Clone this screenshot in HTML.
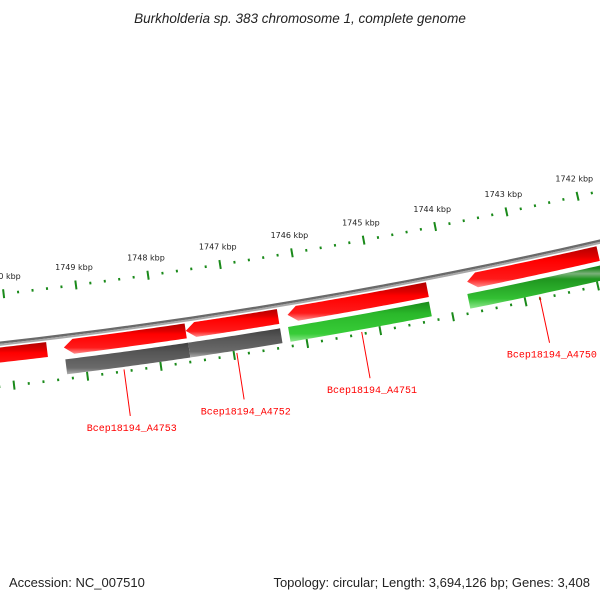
<!DOCTYPE html>
<html><head><meta charset="utf-8">
<style>
html,body{margin:0;padding:0;background:#fff;}
svg{display:block;}
</style></head>
<body>
<svg id="chart" width="600" height="600" viewBox="0 0 600 600" xmlns="http://www.w3.org/2000/svg">
<defs>
<linearGradient id="gRed" x1="0" y1="0" x2="0" y2="1">
<stop offset="0" stop-color="#b00000"/><stop offset="0.25" stop-color="#e00000"/><stop offset="0.35" stop-color="#ff0000"/><stop offset="0.8" stop-color="#ff1a1a"/><stop offset="1" stop-color="#ff9090"/></linearGradient>
<linearGradient id="gGray" x1="0" y1="0" x2="0" y2="1">
<stop offset="0" stop-color="#404040"/><stop offset="0.3" stop-color="#555"/><stop offset="0.8" stop-color="#6a6a6a"/><stop offset="1" stop-color="#b0b0b0"/></linearGradient>
<linearGradient id="gGreen" x1="0" y1="0" x2="0" y2="1">
<stop offset="0" stop-color="#1a8a1a"/><stop offset="0.3" stop-color="#2ab82a"/><stop offset="0.8" stop-color="#38cc38"/><stop offset="1" stop-color="#90e890"/></linearGradient>
<linearGradient id="gDark" x1="0" y1="0" x2="0" y2="1">
<stop offset="0" stop-color="#0b5f0b"/><stop offset="0.4" stop-color="#1f861f"/><stop offset="0.48" stop-color="#7ab07a"/><stop offset="0.56" stop-color="#1f961f"/><stop offset="0.85" stop-color="#33c033"/><stop offset="1" stop-color="#90e890"/></linearGradient>
</defs>
<text x="300" y="23" text-anchor="middle" font-family="Liberation Sans, sans-serif" font-style="italic" font-size="13.5" fill="#222">Burkholderia sp. 383 chromosome 1, complete genome</text>
<g id="ticks-inner"></g>
<g id="ticks-outer"></g>
<g id="backbone"></g>
<g id="features"></g>
<g id="labels"></g>
<text x="9" y="587" font-family="Liberation Sans, sans-serif" font-size="13" fill="#222">Accession: NC_007510</text>
<text x="590" y="587" text-anchor="end" font-family="Liberation Sans, sans-serif" font-size="13" fill="#222">Topology: circular; Length: 3,694,126 bp; Genes: 3,408</text>
</svg>
<script>
// data
var majorTicks = [1741,1742,1743,1744,1745,1746,1747,1748,1749,1750,1751];
var tickLabels = ["1741 kbp","1742 kbp","1743 kbp","1744 kbp","1745 kbp","1746 kbp","1747 kbp","1748 kbp","1749 kbp","1750 kbp","1751 kbp"];
var minorStep = 0.2;
var redStarts = [1749.50, 1749.27, 1747.60, 1746.20, 1743.72];
var redEnds   = [1751.50, 1747.60, 1746.33, 1744.27, 1741.90];
var redArrow  = [false, true, true, true, true];
var lowStarts = [1749.27, 1747.59, 1746.22, 1743.75];
var lowEnds   = [1747.59, 1746.33, 1744.28, 1740.50];
var lowColors = ["gray","gray","green","dark"];
var geneNames = ["Bcep18194_A4753","Bcep18194_A4752","Bcep18194_A4751","Bcep18194_A4750"];
var genePos   = [1748.50, 1746.96, 1745.25, 1742.80];

var NS="http://www.w3.org/2000/svg";
var CX=-600, CY=-5000;
function ang(k){return (79.58+(k-1745)*0.783)*Math.PI/180;}
function pt(k,r){var a=ang(k);return [CX+r*Math.cos(a), CY+r*Math.sin(a)];}
function mk(tag,attrs,parent){var e=document.createElementNS(NS,tag);for(var a in attrs)e.setAttribute(a,attrs[a]);parent.appendChild(e);return e;}
function arcPts(k1,k2,r){var p=[],n=40;for(var i=0;i<=n;i++){p.push(pt(k1+(k2-k1)*i/n,r));}return p;}
function fmt(p){return p.map(function(q){return q[0].toFixed(2)+","+q[1].toFixed(2);}).join(" ");}

// ticks
var gi=document.getElementById('ticks-inner'), go=document.getElementById('ticks-outer');
function drawRing(g,rc,withLabels){
  for(var k=majorTicks[0];k<=majorTicks[majorTicks.length-1]+1e-6;k+=minorStep){
    var isMaj=Math.abs(k-Math.round(k))<1e-6;
    var h=isMaj?4.5:1.3;
    var a=pt(k,rc-h), b=pt(k,rc+h);
    var l=mk('line',{x1:a[0],y1:a[1],x2:b[0],y2:b[1],stroke:'#1a8a1a','stroke-width':2},g);
    
    
  }
  if(withLabels){
    majorTicks.forEach(function(k,i){
      var p=pt(k,rc-15);
      var t=mk('text',{x:p[0],y:p[1],'text-anchor':'middle','font-family':'DejaVu Sans, sans-serif','font-size':'8',fill:'#222'},g);
      t.textContent=tickLabels[i];
      
      
    });
  }
}
drawRing(gi,5328,true);
drawRing(go,5420,false);

// backbone
var bb=document.getElementById('backbone');
var bp1=mk('polyline',{points:fmt(arcPts(1752,1740,5376.3)),fill:'none',stroke:'#6a6a6a','stroke-width':2.4},bb);


var bp2=mk('polyline',{points:fmt(arcPts(1752,1740,5378.4)),fill:'none',stroke:'#a8a8a8','stroke-width':2},bb);



// features
var fg=document.getElementById('features');
function feature(k1,k2,r1,r2,arrow,fill,name){
  var pts;
  if(arrow){
    var sh=k1-0.13;
    pts=arcPts(sh,k2,r1).concat(arcPts(k2,sh,r2));
    pts.push(pt(k1,(r1+r2)/2));
  } else {
    pts=arcPts(k1,k2,r1).concat(arcPts(k2,k1,r2));
  }
  var e=mk('polygon',{points:fmt(pts),fill:fill},fg);
  
  
}
for(var i=0;i<redStarts.length;i++){
  feature(redStarts[i],redEnds[i],5381,5396,redArrow[i],'url(#gRed)','forward-gene-feature');
}
var fills={gray:'url(#gGray)',green:'url(#gGreen)',dark:'url(#gDark)'};
for(var j=0;j<lowStarts.length;j++){
  feature(lowStarts[j],lowEnds[j],5400.5,5415.5,false,fills[lowColors[j]],'reverse-gene-feature');
}

// labels
var lg=document.getElementById('labels');
geneNames.forEach(function(n,i){
  var a=pt(genePos[i],5418), b=pt(genePos[i],5465);
  var l=mk('line',{x1:a[0],y1:a[1],x2:b[0],y2:b[1],stroke:'#ff0000','stroke-width':1},lg);
  
  
  var p=pt(genePos[i],5476);
  var t=mk('text',{x:p[0],y:p[1]+4,'text-anchor':'middle','font-family':'Liberation Mono, monospace','font-size':'10',fill:'#ff0000'},lg);
  t.textContent=n;
  
  
});
</script>
</body></html>
